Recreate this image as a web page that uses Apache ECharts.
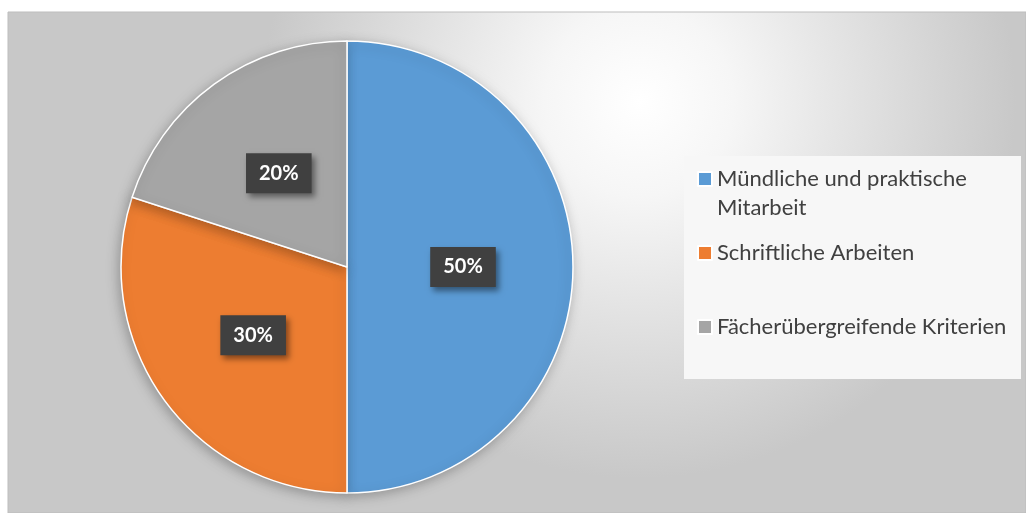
<!DOCTYPE html>
<html>
<head>
<meta charset="utf-8">
<script src="https://cdn.jsdelivr.net/npm/echarts@6/dist/echarts.min.js"></script>
<style>
  html, body { margin: 0; padding: 0; background: #fff; }
  #chart { width: 1026px; height: 513px; }
</style>
</head>
<body>
<div id="chart"></div>
<script>
var chartDom = document.getElementById('chart');
var chart = echarts.init(chartDom);

// Daten
var categories = ['Mündliche und praktische Mitarbeit', 'Schriftliche Arbeiten', 'Fächerübergreifende Kriterien'];
var values = [50, 30, 20];
var colors = ['#5B9BD5', '#ED7D31', '#A5A5A5'];

var fontFamily = 'Lato, "Noto Sans", sans-serif';

// eine Legende pro Eintrag, damit die Abstaende wie im Original sind
var legendTops = [130.5, 233.5, 307.5];
var legends = categories.map(function (name, i) {
  return {
    data: [name],
    left: 692,
    top: legendTops[i],
    orient: 'vertical',
    icon: 'rect',
    itemWidth: 14,
    itemHeight: 14,
    selectedMode: false,
    formatter: function (n) {
      // erste Zeile leer, damit das Symbol auf Hoehe der ersten Textzeile sitzt
      return n === categories[0] ? '\u00a0\nMündliche und praktische\nMitarbeit' : n;
    },
    textStyle: {
      color: '#404040',
      fontSize: 22,
      fontFamily: fontFamily,
      lineHeight: 29
    }
  };
});

var option = {
  backgroundColor: '#fff',
  color: colors,
  graphic: [
    {
      type: 'rect',
      z: -10,
      shape: { x: 8, y: 12, width: 1018, height: 501 },
      style: {
        fill: {
          type: 'radial',
          x: 0.62, y: 0.18, r: 0.75,
          colorStops: [
            { offset: 0, color: '#ffffff' },
            { offset: 0.25, color: '#f6f6f6' },
            { offset: 1, color: '#c8c8c8' }
          ]
        },
        stroke: '#bdbdbd',
        lineWidth: 1
      }
    },
    {
      type: 'rect',
      z: -5,
      shape: { x: 684, y: 156, width: 337, height: 223 },
      style: { fill: '#f7f7f7' }
    }
  ],
  legend: legends,
  series: [
    {
      type: 'pie',
      center: [347, 267],
      radius: 226,
      startAngle: 90,
      clockwise: true,
      silent: true,
      itemStyle: {
        borderColor: '#ffffff',
        borderWidth: 1.5,
        shadowBlur: 12,
        shadowColor: 'rgba(0,0,0,0.25)',
        shadowOffsetX: -2,
        shadowOffsetY: 3
      },
      label: {
        show: true,
        position: 'inside',
        formatter: '{c}%',
        color: '#ffffff',
        fontSize: 20,
        fontWeight: 'bold',
        fontFamily: fontFamily,
        backgroundColor: '#404040',
        padding: [11, 13, 9, 13],
        shadowBlur: 6,
        shadowColor: 'rgba(0,0,0,0.45)',
        shadowOffsetX: 3,
        shadowOffsetY: 4
      },
      labelLine: { show: false },
      data: categories.map(function (name, i) {
        return { name: name, value: values[i] };
      })
    }
  ]
};

chart.setOption(option);
</script>
</body>
</html>
